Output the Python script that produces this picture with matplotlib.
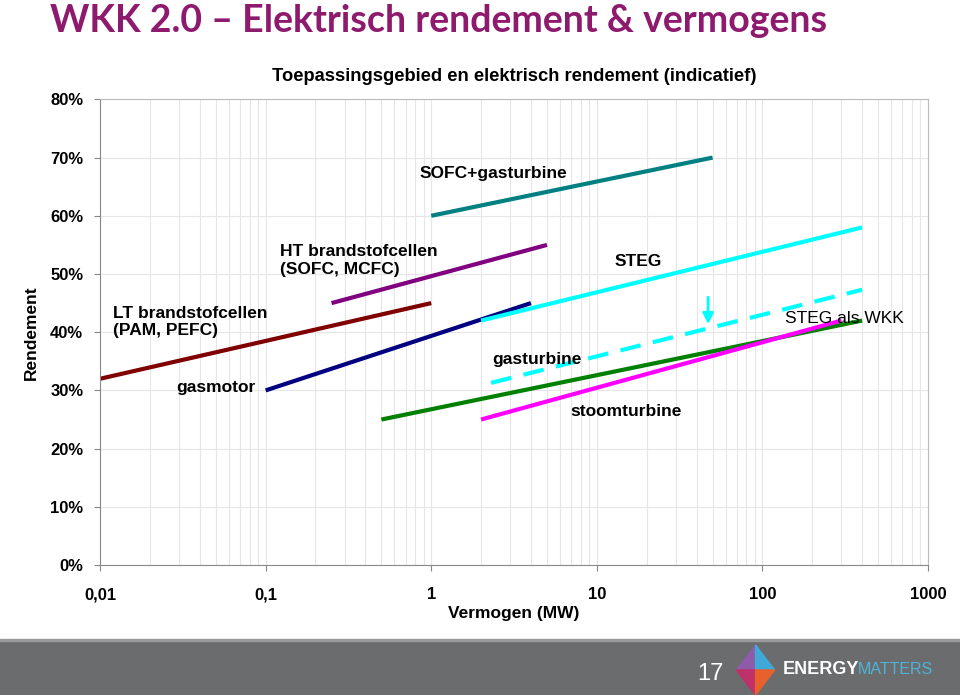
import matplotlib.pyplot as plt
from matplotlib.patches import Rectangle, Polygon
from matplotlib.ticker import FixedLocator, FuncFormatter, LogLocator, NullFormatter

plt.rcParams['font.family'] = ['Liberation Sans', 'DejaVu Sans']

# technologie: (vermogen van, tot in MW), (rendement van, tot)
names = ["LT", "gasmotor", "HT", "SOFC+GT", "STEG", "gasturbine", "stoomturbine"]
x_start = [0.01, 0.1, 0.25, 1.0, 2.0, 0.5, 2.0]
x_end = [1.0, 4.0, 5.0, 50.0, 400.0, 400.0, 300.0]
y_start = [0.32, 0.30, 0.45, 0.60, 0.42, 0.25, 0.25]
y_end = [0.45, 0.45, 0.55, 0.70, 0.58, 0.42, 0.42]
colors = ["#800000", "#000080", "#800080", "#008080", "#00FFFF", "#008000", "#FF00FF"]

# STEG als WKK (gestippeld)
wkk_x = [2.3, 400.0]
wkk_y = [0.313, 0.473]

labels = ["LT brandstofcellen\n(PAM, PEFC)", "gasmotor", "HT brandstofcellen\n(SOFC, MCFC)",
          "SOFC+gasturbine", "STEG", "gasturbine", "stoomturbine", "STEG als WKK"]
label_x = [0.012, 0.029, 0.122, 2.36, 17.7, 2.33, 6.9, 137]
label_y = [0.418, 0.305, 0.523, 0.673, 0.521, 0.353, 0.263, 0.423]
label_ha = ["left", "left", "left", "center", "center", "left", "left", "left"]
label_bold = [True, True, True, True, True, True, True, False]

xticks = [0.01, 0.1, 1, 10, 100, 1000]
xtick_labels = ["0,01", "0,1", "1", "10", "100", "1000"]
yticks = [0, 0.1, 0.2, 0.3, 0.4, 0.5, 0.6, 0.7, 0.8]

fig = plt.figure(figsize=(9.6, 6.95), dpi=100)
ax = fig.add_axes([0.1042, 0.187, 0.8625, 0.670])

for i in range(len(names)):
    ax.plot([x_start[i], x_end[i]], [y_start[i], y_end[i]], color=colors[i], lw=3, solid_capstyle='butt')
ax.plot(wkk_x, wkk_y, color="#00FFFF", lw=3, dashes=(5, 3))
ax.annotate("", xy=(47, 0.409), xytext=(47, 0.465),
            arrowprops=dict(arrowstyle='-|>', color="#00FFFF", lw=2, mutation_scale=16))

for i in range(len(labels)):
    ax.text(label_x[i], label_y[i], labels[i], ha=label_ha[i], va='center', fontsize=12.5,
            fontweight='bold' if label_bold[i] else 'normal', linespacing=1.2)

ax.set_xscale('log')
ax.set_xlim(0.01, 1000)
ax.set_ylim(0, 0.8)
ax.xaxis.set_major_locator(FixedLocator(xticks))
ax.xaxis.set_major_formatter(FuncFormatter(lambda v, p: xtick_labels[xticks.index(v)] if v in xticks else ""))
ax.xaxis.set_minor_locator(LogLocator(base=10, subs=range(2, 10)))
ax.xaxis.set_minor_formatter(NullFormatter())
ax.set_yticks(yticks)
ax.set_yticklabels(["%d%%" % round(v * 100) for v in yticks])
ax.grid(True, which='both', color='#E6E6E6', lw=0.8)
ax.set_axisbelow(True)
ax.tick_params(axis='both', which='major', labelsize=12, length=4, color='#888888', pad=8)
ax.tick_params(axis='x', which='major', pad=12)
ax.tick_params(axis='x', which='minor', length=0)
for lab in ax.get_xticklabels() + ax.get_yticklabels():
    lab.set_fontweight('bold')
for s in ['top', 'right']:
    ax.spines[s].set_color('#BBBBBB')
for s in ['left', 'bottom']:
    ax.spines[s].set_color('#888888')
ax.set_xlabel("Vermogen (MW)", fontsize=12.5, fontweight='bold', labelpad=3)
ax.set_ylabel("Rendement", fontsize=12.5, fontweight='bold', labelpad=8)
ax.set_title("Toepassingsgebied en elektrisch rendement (indicatief)", fontsize=13.2,
             fontweight='bold', pad=13)

fig.text(0.052, 0.97, "WKK 2.0 \u2013 Elektrisch rendement & vermogens", fontsize=27,
         fontweight='bold', color="#8E1A6E", va='center', family=['Lato', 'DejaVu Sans'])

# onderbalk
fig.patches.append(Rectangle((0, 0), 1, 0.079, transform=fig.transFigure, color="#6B6C6E", zorder=0))
fig.patches.append(Rectangle((0, 0.077), 1, 0.004, transform=fig.transFigure, color="#9A9A9A", zorder=0))
fig.text(0.726, 0.03, "17", fontsize=17, color='white', va='center')
cx, cy, w, h = 0.787, 0.036, 0.02, 0.036
for pts, c in [([(cx, cy + h), (cx - w, cy), (cx, cy)], "#8E5BA8"),
               ([(cx, cy + h), (cx + w, cy), (cx, cy)], "#3FA9D8"),
               ([(cx - w, cy), (cx, cy - h), (cx, cy)], "#C0306A"),
               ([(cx + w, cy), (cx, cy - h), (cx, cy)], "#E8602C")]:
    fig.patches.append(Polygon(pts, closed=True, transform=fig.transFigure, color=c, zorder=1))
fig.text(0.815, 0.037, "ENERGY", fontsize=13, fontweight='bold', color='white', va='center')
fig.text(0.894, 0.037, "MATTERS", fontsize=11.5, color='#4FB3D9', va='center')

fig.savefig("out.png", dpi=100)
